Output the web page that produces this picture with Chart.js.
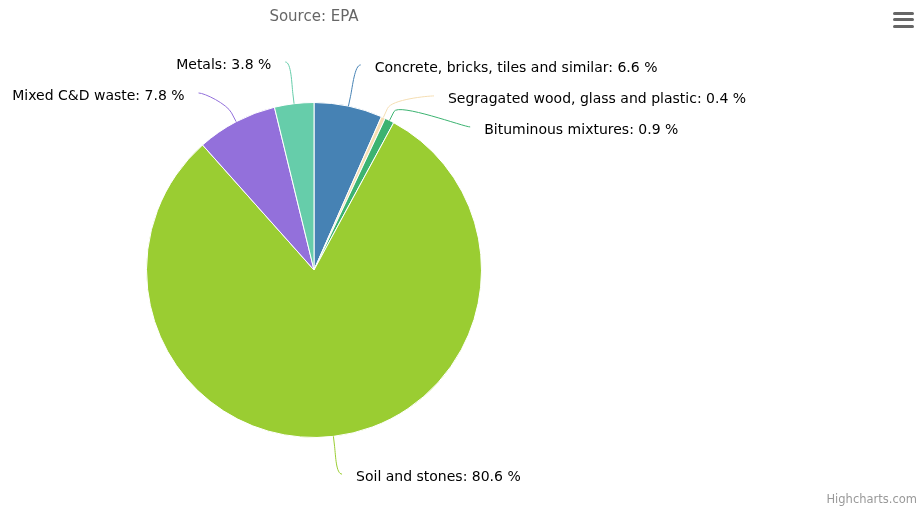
<!DOCTYPE html>
<html><head><meta charset="utf-8">
<script src="https://cdn.jsdelivr.net/npm/chart.js@4"></script>
<style>
html,body{margin:0;padding:0;background:#fff;}
#wrap{position:relative;width:920px;height:507px;overflow:hidden;}
#c{position:absolute;left:0;top:0;}
#sub{position:absolute;top:7px;left:314px;transform:translateX(-50%);font:15px "DejaVu Sans",sans-serif;color:#666;white-space:nowrap;}
#credits{position:absolute;right:3px;top:492px;font:11.5px "DejaVu Sans",sans-serif;color:#999;white-space:nowrap;}
.bar{position:absolute;left:893px;width:21px;height:3px;border-radius:1.5px;background:#666;}
</style>
</head><body>
<div id="wrap">
<canvas id="c" width="920" height="507"></canvas>
<div id="sub">Source: EPA</div>
<div class="bar" style="top:12px"></div>
<div class="bar" style="top:18px"></div>
<div class="bar" style="top:24.5px"></div>
<div id="credits">Highcharts.com</div>
</div>
<script>
const categories = [
  "Concrete, bricks, tiles and similar",
  "Segragated wood, glass and plastic",
  "Bituminous mixtures",
  "Soil and stones",
  "Mixed C&D waste",
  "Metals"
];
const values = [6.6, 0.4, 0.9, 80.6, 7.8, 3.8];
const colors = ["#4682b4", "#f5deb3", "#3cb371", "#9acd32", "#9370db", "#66cdaa"];

const labelPlugin = {
  id: 'pieLabels',
  afterDraw(chart) {
    const ctx = chart.ctx;
    const meta = chart.getDatasetMeta(0);
    const D = 40, S = 31, PAD = 4, GAP = 14, B = 10;
    const items = meta.data.map((arc, i) => {
      const p = arc.getProps(['x','y','startAngle','endAngle','outerRadius'], true);
      const mid = (p.startAngle + p.endAngle) / 2;
      const c = Math.cos(mid), s = Math.sin(mid);
      return {i, cx: p.x, cy: p.y, r: p.outerRadius, c, s, side: c >= 0 ? 1 : -1, ny: p.y + s * (p.outerRadius + D)};
    });
    [1, -1].forEach(side => {
      const list = items.filter(o => o.side === side).sort((a, b) => a.ny - b.ny);
      let prev = -Infinity;
      list.forEach(o => { o.ly = Math.max(o.ny, prev + S); prev = o.ly; });
    });
    ctx.save();
    items.forEach(o => {
      const R2 = o.r + D, dy = o.ly - o.cy;
      const gx = Math.sqrt(Math.max(0, R2 * R2 - dy * dy));
      const nx = Math.abs(o.c) * R2;
      const xc = o.cx + o.side * (Math.max(gx, nx) + PAD);
      const ex = o.cx + o.c * o.r, ey = o.cy + o.s * o.r;
      const bx = o.cx + o.c * (o.r + B), by = o.cy + o.s * (o.r + B);
      ctx.beginPath();
      ctx.moveTo(xc, o.ly - 2);
      ctx.bezierCurveTo(xc - o.side * 6, o.ly - 2, 2 * bx - ex, 2 * by - ey, bx, by);
      ctx.lineTo(ex, ey);
      ctx.strokeStyle = colors[o.i];
      ctx.lineWidth = 1;
      ctx.stroke();
      ctx.font = '14px "DejaVu Sans", sans-serif';
      ctx.fillStyle = '#000';
      ctx.textBaseline = 'middle';
      ctx.textAlign = o.side > 0 ? 'left' : 'right';
      ctx.fillText(categories[o.i] + ': ' + values[o.i].toFixed(1) + ' %', xc + o.side * GAP, o.ly + 1);
    });
    ctx.restore();
  }
};

new Chart(document.getElementById('c'), {
  type: 'pie',
  data: {
    labels: categories,
    datasets: [{data: values, backgroundColor: colors, borderColor: '#fff', borderWidth: 1}]
  },
  options: {
    responsive: false,
    animation: false,
    layout: {padding: {left: 146, right: 438, top: 102, bottom: 69}},
    plugins: {legend: {display: false}, tooltip: {enabled: false}}
  },
  plugins: [labelPlugin]
});
</script>
</body></html>
